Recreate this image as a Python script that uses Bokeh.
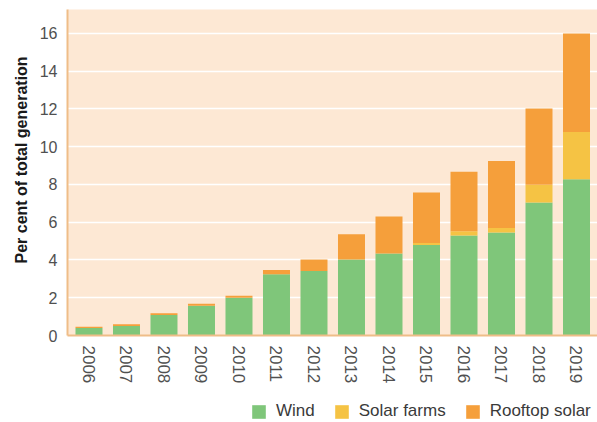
import math
from bokeh.plotting import figure
from bokeh.layouts import column
from bokeh.models import ColumnDataSource, FixedTicker, Legend, LegendItem, Range1d, Title
from bokeh.embed import file_html
from bokeh.resources import INLINE

years = [2006, 2007, 2008, 2009, 2010, 2011, 2012, 2013, 2014, 2015, 2016, 2017, 2018, 2019]
wind = [0.40, 0.50, 1.08, 1.58, 2.00, 3.25, 3.42, 4.02, 4.35, 4.80, 5.30, 5.45, 7.05, 8.28]
solar_farms = [0.0, 0.0, 0.0, 0.0, 0.0, 0.0, 0.0, 0.0, 0.0, 0.10, 0.22, 0.25, 0.93, 2.50]
rooftop_solar = [0.07, 0.10, 0.10, 0.10, 0.10, 0.22, 0.60, 1.35, 1.95, 2.68, 3.15, 3.55, 4.05, 5.22]
series = ["wind", "solar_farms", "rooftop_solar"]
series_labels = ["Wind", "Solar farms", "Rooftop solar"]
y_ticks = [0, 2, 4, 6, 8, 10, 12, 14, 16]
y_title = "Per cent of total generation"

colors = ["#7fc67a", "#f5c344", "#f59f3b"]
FONT = "Liberation Sans"

source = ColumnDataSource(dict(year=years, wind=wind, solar_farms=solar_farms,
                               rooftop_solar=rooftop_solar))

p = figure(width=597, height=400, output_backend="svg", toolbar_location=None,
           x_range=Range1d(2005.427, 2019.56), y_range=Range1d(0, 17.27),
           min_border_left=67, min_border_right=0, min_border_top=9, min_border_bottom=65)

renderers = p.vbar_stack(series, x="year", width=0.72, color=colors, line_color=None,
                         source=source)

p.background_fill_color = "#fde8d4"
p.border_fill_color = "white"
p.outline_line_color = None

p.xgrid.grid_line_color = None
p.ygrid.grid_line_color = "white"
p.ygrid.grid_line_width = 1.5
p.ygrid.ticker = FixedTicker(ticks=y_ticks)

p.yaxis.ticker = FixedTicker(ticks=y_ticks)
p.xaxis.ticker = FixedTicker(ticks=years)

for ax in (p.xaxis[0], p.yaxis[0]):
    ax.axis_line_color = "#efbd88"
    ax.axis_line_width = 2
    ax.major_tick_line_color = None
    ax.minor_tick_line_color = None
    ax.major_tick_out = 0
    ax.major_tick_in = 0
    ax.minor_tick_out = 0
    ax.major_label_text_font = FONT
    ax.major_label_text_font_size = "16px"
    ax.major_label_text_color = "#505050"
    ax.major_label_standoff = 10

p.xaxis.major_label_orientation = -math.pi / 2
p.xaxis.major_label_text_font_size = "17px"

# y-axis title as a side title so it can sit a little above the frame's centre
ytitle = Title(text=y_title, align="left", offset=72, standoff=14,
               text_font=FONT, text_font_style="bold", text_font_size="16px",
               text_color="#1a1a1a")
p.add_layout(ytitle, "left")

# legend strip below the chart (its frame is aligned with the chart's frame)
lg = figure(width=597, height=22, output_backend="svg", toolbar_location=None,
            x_range=Range1d(0, 1), y_range=Range1d(0, 1),
            x_axis_location=None, y_axis_location=None,
            min_border_left=0, min_border_right=0, min_border_top=0, min_border_bottom=0)
lg.outline_line_color = None
lg.background_fill_color = "white"
lg.border_fill_color = "white"
lg.xgrid.grid_line_color = None
lg.ygrid.grid_line_color = None

# same stacked data, drawn off-range so only the legend swatches show
legend_renderers = lg.vbar_stack(series, x="year", width=0.72, color=colors, line_color=None,
                                 source=source)
items = [LegendItem(label=lab, renderers=[r]) for lab, r in zip(series_labels, legend_renderers)]
legend = Legend(items=items, orientation="horizontal", location=(183, 1),
                glyph_width=17, glyph_height=17, label_standoff=9, spacing=18,
                padding=0, margin=0, border_line_color=None, background_fill_alpha=0,
                label_text_font=FONT, label_text_font_size="17px", label_text_color="#3a3a3a")
lg.add_layout(legend)

layout = column(p, lg, spacing=0)
open("out.html", "w").write(file_html(layout, INLINE))
